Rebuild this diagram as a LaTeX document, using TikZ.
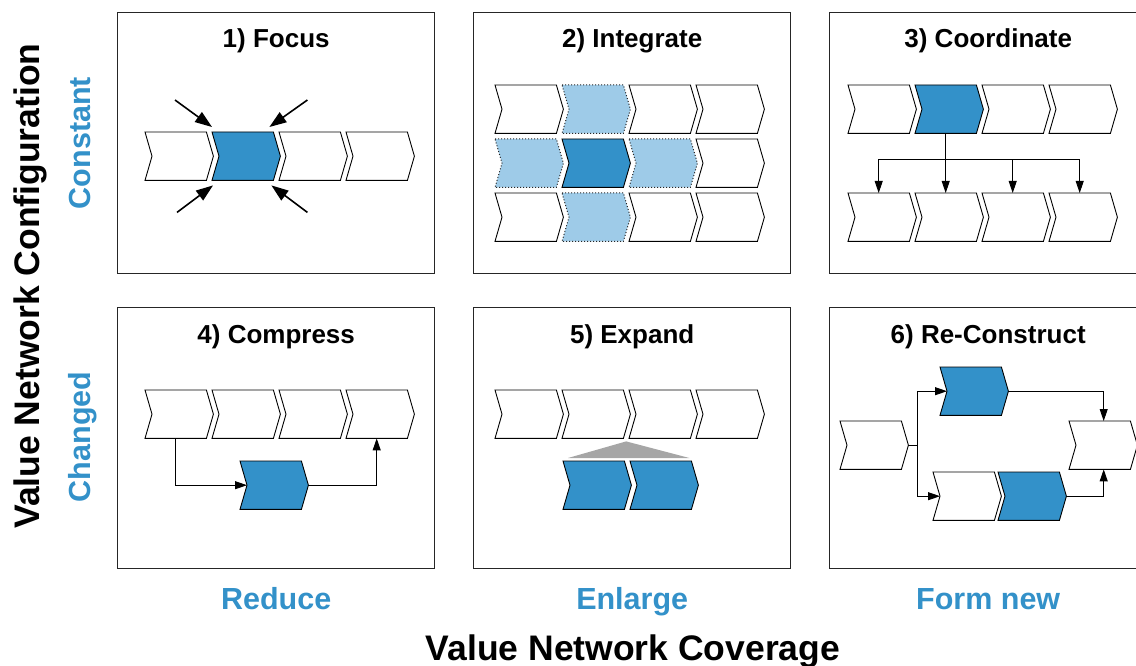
\documentclass[tikz,border=0pt]{standalone}
\usepackage{fontspec}
\setmainfont{Liberation Sans}
\usetikzlibrary{arrows.meta,calc}

\definecolor{accent}{RGB}{51,145,201}
\definecolor{accentlight}{RGB}{158,203,232}
\definecolor{wedge}{RGB}{166,166,166}

\tikzset{
  panel/.style={draw=black!85, line width=1.4pt, rectangle, inner sep=0pt,
    minimum width=317pt, minimum height=261pt, anchor=north west},
  title/.style={anchor=base, font=\fontsize{26}{30}\selectfont\bfseries},
  chevbox/.style={rectangle, inner sep=0pt, minimum width=61pt,
    minimum height=48pt, anchor=north west},
  plain/.style={draw=black, fill=white, line width=0.9pt},
  core/.style={draw=black, fill=accent, line width=0.9pt},
  linked/.style={draw=black!85, fill=accentlight, line width=1pt,
    dash pattern=on 1pt off 2pt},
  wire/.style={draw=black, line width=0.9pt},
  link/.style={wire, -{Triangle[length=12pt,width=8pt]}},
  squeeze/.style={draw=black, line width=1.6pt, -{Triangle[length=17pt,width=12pt]}},
  level/.style={text=accent, font=\fontsize{30.5}{34}\selectfont\bfseries},
  axis/.style={font=\fontsize{35.5}{40}\selectfont\bfseries},
}

% chevron: name, left x, top y, style
\newcommand\chevshape[4]{%
  \node[chevbox] (#1) at (#2,#3) {};
  \coordinate (#1-tip) at ([xshift=7pt]#1.east);
  \coordinate (#1-notch) at ([xshift=7pt]#1.west);
  \draw[#4] (#1.north west) -- (#1.north east) -- (#1-tip) -- (#1.south east)
    -- (#1.south west) -- (#1-notch) -- cycle;
}

\begin{document}
\begin{tikzpicture}[x=1pt,y=-1pt]
\useasboundingbox (0,0) rectangle (1136,666);
\clip (0,0) rectangle (1136,666);

% ---------- panels ----------
\node[panel] (p1) at (117,12) {};
\node[panel] (p2) at (473,12) {};
\node[panel] (p3) at (829,12) {};
\node[panel] (p4) at (117,307) {};
\node[panel] (p5) at (473,307) {};
\node[panel] (p6) at (829,307) {};

\node[title] (t1) at ($(p1.north)+(0,36)$) {1) Focus};
\node[title] (t2) at ($(p2.north)+(0,36)$) {2) Integrate};
\node[title] (t3) at ($(p3.north)+(0,36)$) {3) Coordinate};
\node[title] (t4) at ($(p4.north)+(0,36)$) {4) Compress};
\node[title] (t5) at ($(p5.north)+(0,36)$) {5) Expand};
\node[title] (t6) at ($(p6.north)+(0,36)$) {6) Re-Construct};

% ---------- 1) Focus ----------
\chevshape{f1}{145}{132}{plain}
\chevshape{f2}{212}{132}{core}
\chevshape{f3}{279}{132}{plain}
\chevshape{f4}{346}{132}{plain}
\coordinate (tlend) at ($(f2.north west)+(0,-5)$);
\coordinate (trend) at ($(f2.north east)+(-4,-5)$);
\coordinate (blend) at ($(f2.south west)+(1,5)$);
\coordinate (brend) at ($(f2.south east)+(-2,5)$);
\coordinate (tlstart) at ($(tlend)+(-37,-27)$);
\coordinate (trstart) at ($(trend)+(38,-27)$);
\coordinate (blstart) at ($(blend)+(-36,27)$);
\coordinate (brstart) at ($(brend)+(36,27)$);
\draw[squeeze] (tlstart) -- (tlend);
\draw[squeeze] (trstart) -- (trend);
\draw[squeeze] (blstart) -- (blend);
\draw[squeeze] (brstart) -- (brend);

% ---------- 2) Integrate ----------
\chevshape{ia1}{495}{85}{plain}
\chevshape{ia2}{562}{85}{linked}
\chevshape{ia3}{629}{85}{plain}
\chevshape{ia4}{696}{85}{plain}
\chevshape{ib1}{495}{139}{linked}
\chevshape{ib2}{562}{139}{core}
\chevshape{ib3}{629}{139}{linked}
\chevshape{ib4}{696}{139}{plain}
\chevshape{ic1}{495}{193}{plain}
\chevshape{ic2}{562}{193}{linked}
\chevshape{ic3}{629}{193}{plain}
\chevshape{ic4}{696}{193}{plain}

% ---------- 3) Coordinate ----------
\chevshape{c1}{848}{85}{plain}
\chevshape{c2}{915}{85}{core}
\chevshape{c3}{982}{85}{plain}
\chevshape{c4}{1049}{85}{plain}
\chevshape{d1}{848}{193}{plain}
\chevshape{d2}{915}{193}{plain}
\chevshape{d3}{982}{193}{plain}
\chevshape{d4}{1049}{193}{plain}
\draw[wire] (c2.south) -- ++(0,26) coordinate (bus);
\draw[wire] (d1.north |- bus) -- (d4.north |- bus);
\draw[link] (d1.north |- bus) -- (d1.north);
\draw[link] (d2.north |- bus) -- (d2.north);
\draw[link] (d3.north |- bus) -- (d3.north);
\draw[link] (d4.north |- bus) -- (d4.north);

% ---------- 4) Compress ----------
\chevshape{g1}{145}{390}{plain}
\chevshape{g2}{212}{390}{plain}
\chevshape{g3}{279}{390}{plain}
\chevshape{g4}{346}{390}{plain}
\chevshape{gb}{240}{461}{core}
\draw[link] (g1.south) |- (gb-notch);
\draw[link] (gb-tip) -| (g4.south);

% ---------- 5) Expand ----------
\chevshape{e1}{495}{390}{plain}
\chevshape{e2}{562}{390}{plain}
\chevshape{e3}{629}{390}{plain}
\chevshape{e4}{696}{390}{plain}
\chevshape{x1}{563}{461}{core}
\chevshape{x2}{630}{461}{core}
\fill[wedge] ($(e2.south east)!0.5!(e3.south west)+(0,3)$)
  -- ($(x1.north west)+(5,-3)$) -- ($(x2.north east)+(-2,-3)$) -- cycle;

% ---------- 6) Re-Construct ----------
\chevshape{r1}{840}{421}{plain}
\chevshape{r2}{940}{367}{core}
\chevshape{r3}{933}{472}{plain}
\chevshape{r4}{998}{472}{core}
\chevshape{r5}{1069}{421}{plain}
\draw[wire] (r1-tip) -- ++(9,0) coordinate (fork);
\draw[wire] (fork |- r2-notch) -- (fork |- r3-notch);
\draw[link] (fork |- r2-notch) -- (r2-notch);
\draw[link] (fork |- r3-notch) -- (r3-notch);
\draw[link] (r2-tip) -| ([xshift=4pt]r5.north);
\draw[link] (r4-tip) -| ([xshift=4pt]r5.south);

% ---------- axis labels ----------
\node[axis, rotate=90, anchor=base] (config) at (39,286) {Value Network Configuration};
\node[level, rotate=90, anchor=base] (constant) at (90,143) {Constant};
\node[level, rotate=90, anchor=base] (changed) at (90,437) {Changed};
\node[level, anchor=base] (reduce) at ($(p4.south)+(0,40)$) {Reduce};
\node[level, anchor=base] (enlarge) at ($(p5.south)+(0,40)$) {Enlarge};
\node[level, anchor=base] (formnew) at ($(p6.south)+(0,40)$) {Form new};
\node[axis, anchor=base] (coverage) at (633,660) {Value Network Coverage};
\end{tikzpicture}
\end{document}
